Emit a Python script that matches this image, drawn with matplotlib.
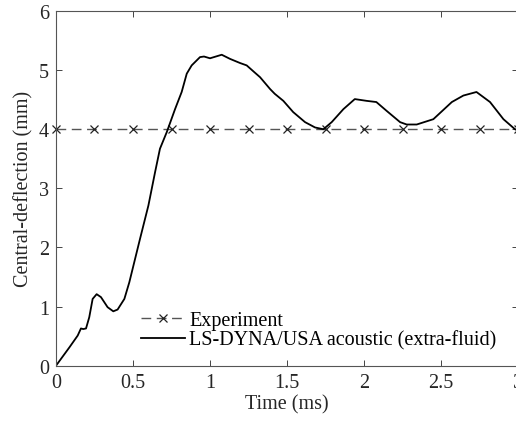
import numpy as np
import matplotlib
matplotlib.use("Agg")
import matplotlib.pyplot as plt

plt.rcParams["font.family"] = ["Liberation Serif", "DejaVu Serif"]
plt.rcParams["font.size"] = 14.5

# Experiment: constant central deflection (mm)
exp_time = [0, 0.25, 0.5, 0.75, 1.0, 1.25, 1.5, 1.75, 2.0, 2.25, 2.5, 2.75, 3.0]
exp_defl = [4, 4, 4, 4, 4, 4, 4, 4, 4, 4, 4, 4, 4]

# LS-DYNA/USA acoustic (extra-fluid) simulation
sim_time = [0.0, 0.087, 0.141, 0.162, 0.177, 0.195, 0.216, 0.238, 0.264,
            0.292, 0.335, 0.372, 0.40, 0.444, 0.476, 0.545, 0.60, 0.643,
            0.675, 0.719, 0.773, 0.816, 0.849, 0.881, 0.935, 0.961, 1.0,
            1.076, 1.13, 1.195, 1.238, 1.29, 1.325, 1.39, 1.42, 1.476, 1.54,
            1.617, 1.682, 1.736, 1.79, 1.866, 1.94, 2.017, 2.08, 2.147,
            2.234, 2.277, 2.342, 2.45, 2.57, 2.645, 2.73, 2.818, 2.905,
            2.98, 3.0]
sim_defl = [0.0, 0.31, 0.51, 0.63, 0.62, 0.63, 0.82, 1.13, 1.21,
            1.16, 0.99, 0.92, 0.95, 1.13, 1.41, 2.14, 2.71, 3.27,
            3.67, 3.95, 4.34, 4.63, 4.94, 5.08, 5.22, 5.23, 5.20,
            5.26, 5.19, 5.12, 5.08, 4.96, 4.88, 4.68, 4.60, 4.48, 4.29,
            4.12, 4.03, 4.00, 4.12, 4.34, 4.51, 4.48, 4.46, 4.31,
            4.12, 4.08, 4.08, 4.17, 4.46, 4.57, 4.63, 4.46, 4.17,
            4.00, 3.98]

fig = plt.figure(figsize=(5.16, 4.27), dpi=100)
ax = fig.add_axes([0.1085, 0.1412, 0.8955, 0.8307])

ax.plot(exp_time, exp_defl, linestyle="--", color="#555555", linewidth=1.0,
        dashes=(7, 4), marker="x", markersize=6, markeredgecolor="#222222",
        markeredgewidth=0.9, clip_on=False, label="Experiment")
ax.plot(sim_time, sim_defl, color="black", linewidth=1.3,
        solid_joinstyle="round", label="LS-DYNA/USA acoustic (extra-fluid)")

ax.set_xlim(0, 3)
ax.set_ylim(0, 6)
ax.set_xticks([0, 0.5, 1, 1.5, 2, 2.5, 3])
ax.set_xticklabels(["0", "0.5", "1", "1.5", "2", "2.5", "3"])
ax.set_yticks([0, 1, 2, 3, 4, 5, 6])
ax.tick_params(direction="in", top=True, right=True, length=4, width=0.6,
               colors="#262626", labelcolor="#262626", pad=5)
for s in ax.spines.values():
    s.set_color("#555555")
    s.set_linewidth(0.8)

ax.set_xlabel("Time (ms)", color="#262626", labelpad=2)
ax.set_ylabel("Central-deflection (mm)", color="#262626", labelpad=4)

ax.legend(loc="lower left", bbox_to_anchor=(0.184, 0.045), frameon=False,
          borderpad=0, borderaxespad=0, handlelength=2.2, handletextpad=0.2,
          labelspacing=0.0)

fig.savefig("out.png", dpi=100)
